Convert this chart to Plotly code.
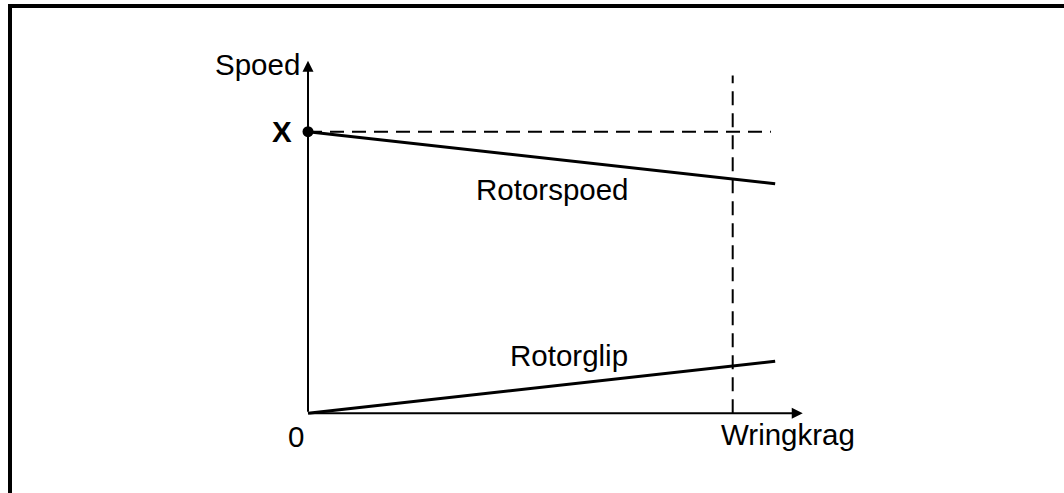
import plotly.graph_objects as go

# --- data (conceptual units: torque in units of the marked torque, speed in units of X) ---
torque = [0.0, 1.10]
rotor_speed = [1.0, 0.815]
rotor_slip = [0.0, 0.185]
sync_speed = 1.0          # point "X"
marked_torque = 1.0       # vertical dashed line
x_axis_end = 1.165
y_axis_end = 1.252
hdash_end = 1.09
vdash_top = 1.20

labels = {
    "y_title": "Spoed",
    "x_title": "Wringkrag",
    "origin": "0",
    "sync": "X",
    "speed": "Rotorspoed",
    "slip": "Rotorglip",
}

W, H = 1064, 493
# pixel placement of origin and scale (layout only)
ox, oy = 308.0, 413.3
sx, sy = 424.7, 281.6
xr = [(0 - ox) / sx, (W - ox) / sx]
yr = [(oy - H) / sy, oy / sy]

FONT = "Liberation Sans, Arial, sans-serif"
FS = 29.5

fig = go.Figure()

# dashed reference lines
fig.add_trace(go.Scatter(x=[0, hdash_end], y=[sync_speed, sync_speed], mode="lines",
                         line=dict(color="black", width=2, dash="14px,8px"),
                         hoverinfo="skip", showlegend=False))
fig.add_trace(go.Scatter(x=[marked_torque, marked_torque], y=[0, vdash_top], mode="lines",
                         line=dict(color="black", width=2, dash="14px,8px"),
                         hoverinfo="skip", showlegend=False))

# curves
fig.add_trace(go.Scatter(x=torque, y=rotor_speed, mode="lines",
                         line=dict(color="black", width=3), showlegend=False))
fig.add_trace(go.Scatter(x=torque, y=rotor_slip, mode="lines",
                         line=dict(color="black", width=3), showlegend=False))

# point X
fig.add_trace(go.Scatter(x=[0], y=[sync_speed], mode="markers",
                         marker=dict(color="black", size=11), showlegend=False))

ann = []
# axes with arrows
ann.append(dict(x=x_axis_end, y=0, ax=0, ay=0, xref="x", yref="y", axref="x", ayref="y",
                text="", showarrow=True, arrowhead=2, arrowsize=1.1, arrowwidth=2,
                arrowcolor="black", standoff=0, startstandoff=0))
ann.append(dict(x=0, y=y_axis_end, ax=0, ay=0, xref="x", yref="y", axref="x", ayref="y",
                text="", showarrow=True, arrowhead=2, arrowsize=1.1, arrowwidth=2,
                arrowcolor="black", standoff=0, startstandoff=0))

def txt(x, y, t, xanchor="center", bold=False):
    return dict(x=x, y=y, xref="x", yref="y", text=("<b>%s</b>" % t) if bold else t,
                showarrow=False, xanchor=xanchor, yanchor="middle",
                font=dict(family=FONT, size=FS, color="black"))

ann.append(txt(-0.014, 1.237, labels["y_title"], xanchor="right"))
ann.append(txt(-0.033, 1.0, labels["sync"], xanchor="right", bold=True))
ann.append(txt(-0.028, -0.0824, labels["origin"]))
ann.append(txt(1.130, -0.077, labels["x_title"]))
ann.append(txt(0.5757, 0.793, labels["speed"]))
ann.append(txt(0.6145, 0.2053, labels["slip"]))

fig.update_layout(
    width=W, height=H, autosize=False,
    margin=dict(l=0, r=0, t=0, b=0, pad=0),
    paper_bgcolor="white", plot_bgcolor="white",
    xaxis=dict(range=xr, visible=False, fixedrange=True),
    yaxis=dict(range=yr, visible=False, fixedrange=True),
    annotations=ann,
    shapes=[dict(type="rect", xref="paper", yref="paper",
                 x0=10 / W, x1=1.2, y0=-0.2, y1=1 - 6 / H,
                 line=dict(color="black", width=4), layer="above")],
    showlegend=False,
)

fig.write_html("out.html", config={"displayModeBar": False},
               post_script="document.body.style.margin='0px';document.body.style.overflow='hidden';")
